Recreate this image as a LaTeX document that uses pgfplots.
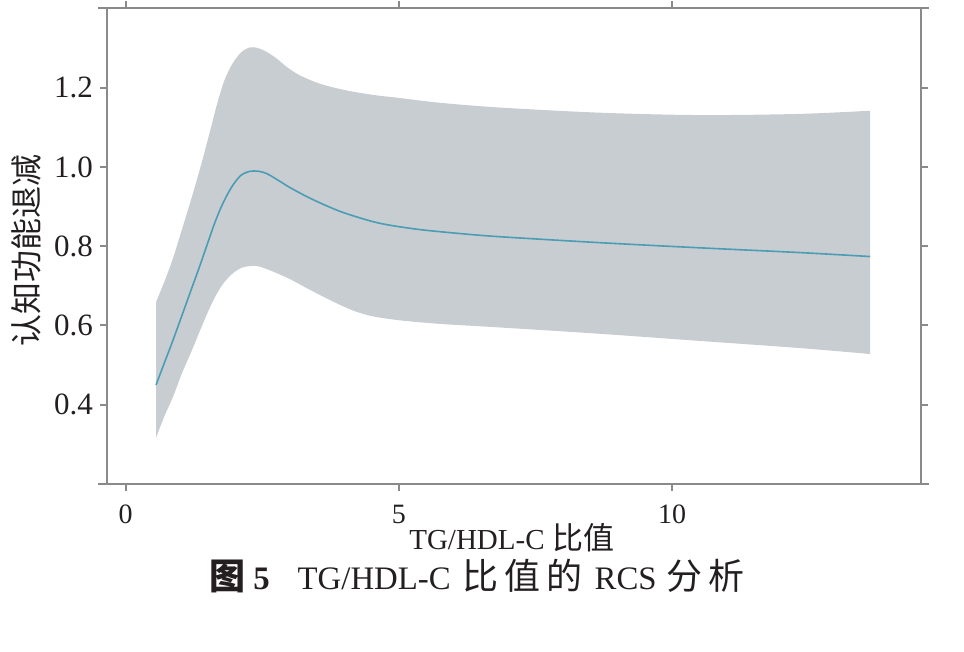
\documentclass[border=0pt]{standalone}
\usepackage{fontspec}
\setmainfont{Liberation Serif}
\newfontfamily\cjk{Noto Sans CJK SC}
\usepackage{pgfplots}
\pgfplotsset{compat=1.18}
\usepgfplotslibrary{fillbetween}
\definecolor{band}{HTML}{C8CDD1}
\definecolor{curve}{HTML}{4A9DB5}
\definecolor{axcol}{HTML}{8A8A8A}
\definecolor{txt}{HTML}{231F20}
\begin{document}
\begin{tikzpicture}
\begin{axis}[
  scale only axis, width=407pt, height=237.75pt,
  xmin=-0.339, xmax=14.556, ymin=0.2, ymax=1.4,
  xtick={0,5,10}, ytick={0.4,0.6,0.8,1.0,1.2},
  tick align=outside, major tick length=3.5pt,
  axis line style={axcol, line width=1pt},
  tick style={axcol, line width=1pt},
  /pgf/number format/assume math mode=true,
  xticklabel style={font=\fontsize{14}{16}\selectfont, text=txt, yshift=-3.5pt},
  yticklabel style={font=\fontsize{15.5}{18}\selectfont, text=txt,
    /pgf/number format/fixed, /pgf/number format/fixed zerofill,
    /pgf/number format/precision=1},
  xlabel={TG/HDL-C\hspace{4pt}{\cjk\fontsize{15.5}{17}\selectfont 比值}},
  xlabel style={font=\fontsize{14.5}{16}\selectfont, text=txt,
    at={(axis description cs:0.4975,-0.1388)}, anchor=base},
  ylabel={{\cjk 认知功能退减}},
  ylabel style={font=\fontsize{16}{18}\selectfont, text=txt,
    at={(axis description cs:-0.0995,0.49)}, anchor=center, rotate=0},
]
\addplot[name path=up, draw=none, smooth] coordinates {
(0.558,0.659) (0.723,0.715) (0.869,0.770) (1.052,0.851) (1.235,0.934)
(1.400,1.014) (1.546,1.090) (1.674,1.158) (1.802,1.216) (1.949,1.259)
(2.113,1.289) (2.278,1.302) (2.425,1.300) (2.589,1.290) (2.772,1.273)
(2.955,1.252) (3.193,1.231) (3.559,1.210) (4.016,1.194) (4.529,1.182)
(5.023,1.174) (5.755,1.162) (6.853,1.150) (8.682,1.137) (10.512,1.131)
(12.342,1.134) (13.623,1.142)};
\addplot[name path=lo, draw=none, smooth] coordinates {
(0.558,0.317) (0.723,0.375) (0.869,0.420) (1.034,0.480) (1.180,0.526)
(1.345,0.581) (1.491,0.629) (1.638,0.672) (1.784,0.705) (1.949,0.730)
(2.113,0.745) (2.278,0.750) (2.443,0.749) (2.699,0.736) (3.010,0.717)
(3.321,0.694) (3.614,0.673) (3.925,0.652) (4.218,0.635) (4.529,0.623)
(5.023,0.613) (5.755,0.604) (6.853,0.595) (8.682,0.579) (10.512,0.561)
(12.342,0.543) (13.623,0.528)};
\addplot[band, draw=none] fill between[of=up and lo];
\addplot[curve, line width=0.8pt, smooth] coordinates {
(0.558,0.450) (0.723,0.510) (0.869,0.563) (1.034,0.626) (1.180,0.682)
(1.345,0.745) (1.491,0.803) (1.638,0.861) (1.784,0.909) (1.949,0.951)
(2.113,0.979) (2.278,0.989) (2.443,0.989) (2.589,0.983) (2.800,0.966)
(3.010,0.948) (3.321,0.925) (3.614,0.906) (3.925,0.888) (4.231,0.874)
(4.529,0.862) (4.840,0.853) (5.389,0.842) (6.121,0.832) (6.853,0.824)
(8.682,0.809) (10.512,0.796) (12.342,0.784) (13.623,0.774)};
\end{axis}
\draw[axcol, line width=1pt] ([xshift=-4.5pt]current axis.south west) -- ([xshift=4pt]current axis.south east);
\draw[axcol, line width=1pt] ([xshift=-4.5pt]current axis.north west) -- ([xshift=4pt]current axis.north east);
\node[anchor=base, font=\fontsize{16.4}{20}\selectfont, text=txt] at (185pt,-53pt)
  {{\cjk\bfseries\fontsize{18}{20}\selectfont 图}\hspace{4pt}\textbf{5}\hspace{14pt}TG/HDL-C\hspace{6pt}{\cjk\fontsize{18}{20}\selectfont 比\hspace{3pt}值\hspace{3pt}的}\hspace{6pt}RCS\hspace{5pt}{\cjk\fontsize{18}{20}\selectfont 分\hspace{3pt}析}};
\path (-53.5pt,-84pt) rectangle (428.5pt,242pt);
\end{tikzpicture}
\end{document}
